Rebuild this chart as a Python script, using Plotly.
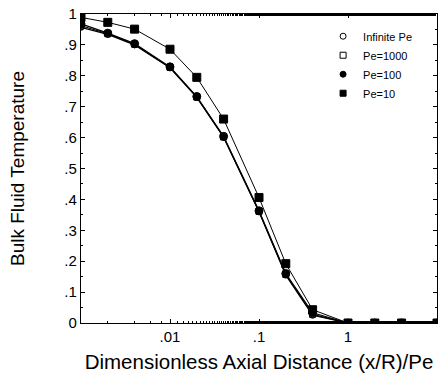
import plotly.graph_objects as go

x_vals = [0.001, 0.002, 0.004, 0.01, 0.02, 0.04, 0.1, 0.2, 0.4, 1, 2, 4, 10]
t_inf = [0.957, 0.934, 0.900, 0.826, 0.730, 0.601, 0.360, 0.155, 0.025, 0, 0, 0, 0]
t_pe1000 = [0.962, 0.936, 0.902, 0.827, 0.731, 0.602, 0.361, 0.157, 0.028, 0, 0, 0, 0]
t_pe100 = [0.968, 0.938, 0.904, 0.829, 0.733, 0.604, 0.363, 0.160, 0.033, 0, 0, 0, 0]
t_pe10 = [0.989, 0.973, 0.951, 0.886, 0.795, 0.660, 0.406, 0.192, 0.043, 0, 0, 0, 0]

x_tickvals = [0.01, 0.1, 1, 10]
x_ticktext = [".01", ".1", "1", "10"]
y_tickvals = [0, 0.1, 0.2, 0.3, 0.4, 0.5, 0.6, 0.7, 0.8, 0.9, 1]
y_ticktext = ["0", ".1", ".2", ".3", ".4", ".5", ".6", ".7", ".8", ".9", "1"]

series = [
    ("Infinite Pe", t_inf, "circle-open", 1.2, 6),
    ("Pe=1000", t_pe1000, "square-open", 1.2, 6),
    ("Pe=100", t_pe100, "circle", 1.2, 8),
    ("Pe=10", t_pe10, "square", 1.0, 8),
]

fig = go.Figure()
for name, ys, sym, lw, ms in series:
    fig.add_trace(go.Scatter(
        x=x_vals, y=ys, name=name, mode="lines+markers", showlegend=False,
        line=dict(color="black", width=lw),
        marker=dict(symbol=sym, size=ms, color="black",
                    line=dict(color="black", width=1)),
    ))
# legend entries: marker only, as in the reference key
for name, ys, sym, lw, ms in series:
    fig.add_trace(go.Scatter(
        x=[None], y=[None], name=name, mode="markers", showlegend=True,
        marker=dict(symbol=sym, size=6, color="black",
                    line=dict(color="black", width=1)),
    ))

font_family = "Liberation Sans, Arial, sans-serif"
fig.update_layout(
    width=443, height=377,
    margin=dict(l=81, r=6, t=14, b=54),
    paper_bgcolor="white", plot_bgcolor="white",
    font=dict(family=font_family, color="black", size=15),
    showlegend=True,
    legend=dict(x=0.68, y=0.975, xanchor="left", yanchor="top",
                font=dict(size=11), bgcolor="rgba(0,0,0,0)",
                itemwidth=30, tracegroupgap=0),
    xaxis=dict(
        type="log", range=[-3, 1], tickvals=x_tickvals, ticktext=x_ticktext,
        showline=True, linecolor="black", linewidth=1.3, mirror="ticks",
        ticks="inside", ticklen=4, tickcolor="black", showgrid=False, zeroline=False,
        minor=dict(ticks="inside", ticklen=2, tickcolor="black", showgrid=False),
        tickfont=dict(size=15),
        title=dict(text="Dimensionless Axial Distance (x/R)/Pe", font=dict(size=20.5), standoff=10),
    ),
    yaxis=dict(
        range=[0, 1], tickvals=y_tickvals, ticktext=y_ticktext,
        showline=True, linecolor="black", linewidth=1.3, mirror="ticks",
        ticks="inside", ticklen=4, tickcolor="black", showgrid=False, zeroline=False,
        minor=dict(ticks="inside", ticklen=2, tickcolor="black", dtick=0.05, showgrid=False),
        tickfont=dict(size=15),
        title=dict(text="Bulk Fluid Temperature", font=dict(size=19), standoff=34),
    ),
)

fig.write_html("out.html")
